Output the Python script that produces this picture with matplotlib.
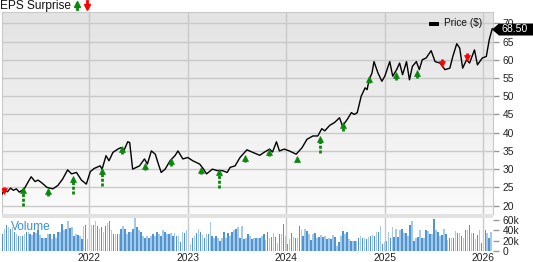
import numpy as np
import matplotlib
matplotlib.use('Agg')
import matplotlib.pyplot as plt
from matplotlib.colors import LinearSegmentedColormap
from matplotlib.patches import Polygon, Rectangle

plt.rcParams['font.family'] = ['Liberation Sans', 'DejaVu Sans']

# --- dane ---
price_years = [
    2021.11, 2021.14, 2021.17, 2021.20, 2021.23, 2021.26, 2021.29, 2021.34, 2021.39, 2021.41,
    2021.45, 2021.48, 2021.52, 2021.57, 2021.63, 2021.68, 2021.73, 2021.78, 2021.82, 2021.87,
    2021.92, 2021.97, 2022.01, 2022.05, 2022.11, 2022.13, 2022.17, 2022.20, 2022.24, 2022.29,
    2022.32, 2022.35, 2022.39, 2022.41, 2022.44, 2022.51, 2022.56, 2022.59, 2022.63, 2022.67,
    2022.70, 2022.73, 2022.77, 2022.82, 2022.87, 2022.90, 2022.95, 2023.00, 2023.05, 2023.12,
    2023.16, 2023.19, 2023.25, 2023.30, 2023.35, 2023.40, 2023.43, 2023.48, 2023.53, 2023.60,
    2023.66, 2023.73, 2023.78, 2023.83, 2023.86, 2023.90, 2023.93, 2023.98, 2024.03, 2024.10,
    2024.16, 2024.21, 2024.27, 2024.32, 2024.36, 2024.39, 2024.44, 2024.49, 2024.54, 2024.57,
    2024.62, 2024.66, 2024.69, 2024.72, 2024.76, 2024.80, 2024.82, 2024.84, 2024.87, 2024.89,
    2024.93, 2024.97, 2025.00, 2025.05, 2025.08, 2025.12, 2025.15, 2025.18, 2025.22, 2025.25,
    2025.28, 2025.32, 2025.35, 2025.38, 2025.42, 2025.47, 2025.51, 2025.56, 2025.61, 2025.66,
    2025.69, 2025.73, 2025.76, 2025.79, 2025.83, 2025.86, 2025.91, 2025.94, 2025.99, 2026.03,
    2026.06, 2026.09,
]
price = [
    23.0, 24.3, 23.8, 24.8, 24.2, 24.6, 23.7, 24.6, 27.0, 27.9,
    26.6, 27.0, 26.2, 25.0, 24.6, 25.5, 27.3, 29.8, 28.7, 29.1,
    27.0, 25.9, 29.3, 30.2, 30.9, 30.0, 33.7, 32.3, 34.6, 35.5,
    35.9, 35.0, 37.5, 37.3, 30.0, 30.9, 32.8, 31.4, 35.0, 34.1,
    31.5, 29.1, 30.0, 32.3, 33.7, 35.0, 32.8, 33.2, 32.3, 31.4,
    30.0, 28.7, 30.0, 29.6, 29.6, 29.1, 30.5, 30.9, 33.2, 35.3,
    34.6, 33.8, 34.7, 35.5, 34.7, 37.5, 35.0, 35.5, 35.0, 34.1,
    35.9, 38.2, 39.1, 39.1, 41.1, 40.5, 42.0, 42.8, 44.1, 41.8,
    43.7, 45.5, 45.0, 45.5, 50.0, 52.3, 51.8, 54.5, 56.4, 59.5,
    56.4, 54.1, 55.5, 59.5, 55.5, 57.3, 59.1, 55.9, 59.5, 54.5,
    58.2, 59.5, 57.3, 60.0, 60.5, 62.5, 59.5, 59.1, 57.3, 57.7,
    60.9, 64.4, 63.2, 57.7, 60.0, 59.1, 62.7, 58.6, 60.5, 60.9,
    65.5, 68.5,
]

# niespodzianki EPS: data, grot strzałki, koniec trzonka
beat_years = [2021.33, 2021.58, 2021.83, 2022.13, 2022.33, 2022.57, 2022.83, 2023.13, 2023.32,
              2023.58, 2023.82, 2024.11, 2024.34, 2024.58, 2024.84, 2025.11, 2025.33]
beat_head = [24.9, 24.8, 28.0, 30.3, 36.2, 31.7, 33.0, 30.5, 29.8,
             33.8, 35.3, 33.4, 39.1, 42.8, 55.5, 56.5, 57.1]
beat_base = [20.0, 22.7, 23.2, 25.3, 34.1, 29.8, 30.9, 28.7, 24.8,
             31.9, 33.7, 31.9, 34.3, 40.5, 53.7, 54.4, 55.0]
miss_years = [2021.13, 2025.58, 2025.83]
miss_top = [25.1, 60.2, 61.8]
miss_tip = [23.2, 58.2, 59.8]

# wolumen tygodniowy (tys.)
volume = [
    33, 43, 50, 46, 43, 46, 36, 33, 30, 30, 30, 33, 36, 36, 33, 32, 36, 34, 40, 32,
    26, 25, 26, 33, 33, 23, 33, 26, 36, 36, 53, 40, 43, 59, 45, 46, 30, 33, 32, 30,
    23, 48, 50, 23, 20, 50, 50, 59, 48, 43, 46, 36, 48, 54, 58, 40, 33, 33, 33, 33,
    43, 48, 43, 33, 36, 36, 43, 65, 46, 41, 36, 30, 26, 30, 25, 30, 33, 30, 36, 33,
    30, 40, 36,
    33, 33, 34, 30, 34, 30, 30, 17, 36, 34, 41, 23, 13, 26, 30, 34, 43, 36, 32, 26,
    33, 33, 56, 30, 26, 30, 25, 20, 25, 36, 25, 34, 30, 36, 40, 43, 46, 26, 48, 23,
    25, 33, 30, 23, 25, 25, 25, 25, 30, 33, 21, 36, 25, 28, 34, 28, 15, 33, 33, 53,
    30, 13, 23, 34, 28, 26, 25, 48, 40, 30, 43, 38, 33, 21, 33, 34, 25, 28, 32, 28,
    30, 23, 26,
    23, 32, 28, 10, 17, 30, 38, 33, 36, 23, 20, 20, 20, 20, 25, 30, 26, 26, 23, 28,
    30, 32, 30, 36, 36, 48, 13, 17, 20, 36, 25, 46, 28, 43, 28, 40, 43, 34, 34, 30,
    50, 58, 20, 26, 28, 40, 26, 26, 41, 38, 33, 33, 63, 40, 36, 30, 32, 43, 33, 21,
    26, 26, 25, 38, 34, 34, 30, 26, 40, 40, 50, 34, 34, 23, 32, 41, 15, 15, 40, 34,
    25, 36,
]

year_ticks = [2022, 2023, 2024, 2025, 2026]
price_ticks = [20, 25, 30, 35, 40, 45, 50, 55, 60, 65, 70]
vol_ticks = [0, 20, 40, 60]
vol_labels = ['0', '20k', '40k', '60k']
last_price = '68.50'

# --- rysunek ---
W, H = 533, 262
fig = plt.figure(figsize=(W / 100, H / 100), dpi=100)

def px_box(left, top, right, bottom):
    return [left / W, 1 - bottom / H, (right - left) / W, (bottom - top) / H]

ax = fig.add_axes(px_box(2, 12, 493, 214))
axv = fig.add_axes(px_box(2, 218, 493, 251), sharex=ax)

grid_col = '#c9c9c9'
xlim = (2021.114, 2026.098)

# tło z gradientem
cmap = LinearSegmentedColormap.from_list('bg', ['#e3e3e3', '#fbfbfb'])
ax.imshow(np.linspace(0, 1, 256).reshape(-1, 1), cmap=cmap, aspect='auto',
          extent=[0, 1, 0, 1], transform=ax.transAxes, zorder=0)

for y in price_ticks:
    ax.axhline(y, color=grid_col, lw=1, zorder=1)
for x in year_ticks:
    ax.axvline(x, color=grid_col, lw=1, zorder=1)
    axv.axvline(x, color=grid_col, lw=1, zorder=3)

ax.plot(price_years, price, color='black', lw=1, zorder=4)

green = '#0b880b'
red = '#ff0000'
for x, h, b in zip(beat_years, beat_head, beat_base):
    ax.plot([x, x], [b, h - 0.8], color=green, lw=2, ls=(0, (1.1, 0.6)),
            solid_capstyle='butt', dash_capstyle='butt', zorder=5)
    ax.plot(x, h - 0.7, marker='^', ms=4.6, color=green, mec=green, mew=0.5, zorder=6)
for x, t, tip in zip(miss_years, miss_top, miss_tip):
    ax.plot([x, x], [t, tip + 0.8], color=red, lw=2, solid_capstyle='butt', zorder=5)
    ax.plot(x, tip + 0.7, marker='v', ms=4.6, color=red, mec=red, mew=0.5, zorder=6)

ax.set_xlim(*xlim)
ax.set_ylim(17.7, 73.1)
ax.yaxis.tick_right()
ax.set_yticks(price_ticks)
ax.set_yticklabels([str(v) for v in price_ticks])
ax.tick_params(axis='y', length=4, width=1, color='#999999', pad=3, labelsize=7.4,
               labelcolor='#222222')
ax.tick_params(axis='x', bottom=False, labelbottom=False)
for s in ax.spines.values():
    s.set_color(grid_col)
ax.spines['bottom'].set_visible(False)

# wolumen
n = len(volume)
vol_x = np.linspace(2021.12, 2026.08, n)
step = vol_x[1] - vol_x[0]
bar_cols = ['#4f95d1' if i % 2 == 0 else '#a7c9e8' for i in range(n)]
axv.bar(vol_x, volume, width=step * 0.8, color=bar_cols, zorder=2)
axv.set_ylim(0, 64)
axv.set_xlim(*xlim)
axv.yaxis.tick_right()
axv.set_yticks(vol_ticks)
axv.set_yticklabels(vol_labels)
axv.tick_params(axis='y', length=4, width=1, color='#999999', pad=3, labelsize=7.4,
                labelcolor='#222222')
axv.set_xticks(year_ticks)
axv.set_xticklabels([str(y) for y in year_ticks])
axv.tick_params(axis='x', length=0, pad=1.5, labelsize=7.4, labelcolor='#222222')
for s in axv.spines.values():
    s.set_visible(False)
axv.text(0.018, 0.72, 'Volume', transform=axv.transAxes, fontsize=8.6,
         color='#3d8fd1', va='center', ha='left', zorder=5)

# pasek między panelami
fig.add_artist(Rectangle((2 / W, 1 - 218 / H), 491 / W, 4 / H, transform=fig.transFigure,
                         facecolor='#e2e2e2', edgecolor='none'))

# tytuł EPS Surprise
fig.text(0 / W, 1 - 6 / H, 'EPS Surprise', fontsize=8.6, va='center', ha='left',
         color='#111111')
fig.add_artist(plt.Line2D([77 / W, 77 / W], [1 - 9 / H, 1 - 4 / H], color=green, lw=2,
                          transform=fig.transFigure))
fig.add_artist(plt.Line2D([77 / W], [1 - 3.5 / H], marker='^', ms=4.6, color=green,
                          transform=fig.transFigure))
fig.add_artist(plt.Line2D([87 / W, 87 / W], [1 - 1 / H, 1 - 5 / H], color=red, lw=2,
                          transform=fig.transFigure))
fig.add_artist(plt.Line2D([87 / W], [1 - 6.5 / H], marker='v', ms=4.6, color=red,
                          transform=fig.transFigure))

# legenda ceny
fig.add_artist(Rectangle((429 / W, 1 - 26 / H), 10 / W, 4.5 / H, transform=fig.transFigure,
                         facecolor='black', edgecolor='none'))
fig.text(444 / W, 1 - 23.5 / H, 'Price ($)', fontsize=7.3, va='center', ha='left',
         color='#111111')

# znacznik ostatniej ceny (zasłania etykietę 70 jak w oryginale)
tag = Polygon([(492 / W, 1 - 29.5 / H), (499 / W, 1 - 23.5 / H), (533 / W, 1 - 23.5 / H),
               (533 / W, 1 - 35.5 / H), (499 / W, 1 - 35.5 / H)], closed=True,
              transform=fig.transFigure, facecolor='black', edgecolor='none')
fig.add_artist(tag)
fig.text(515 / W, 1 - 29.5 / H, last_price, fontsize=7.6, va='center', ha='center',
         color='white')

fig.savefig('out.png', dpi=100)
